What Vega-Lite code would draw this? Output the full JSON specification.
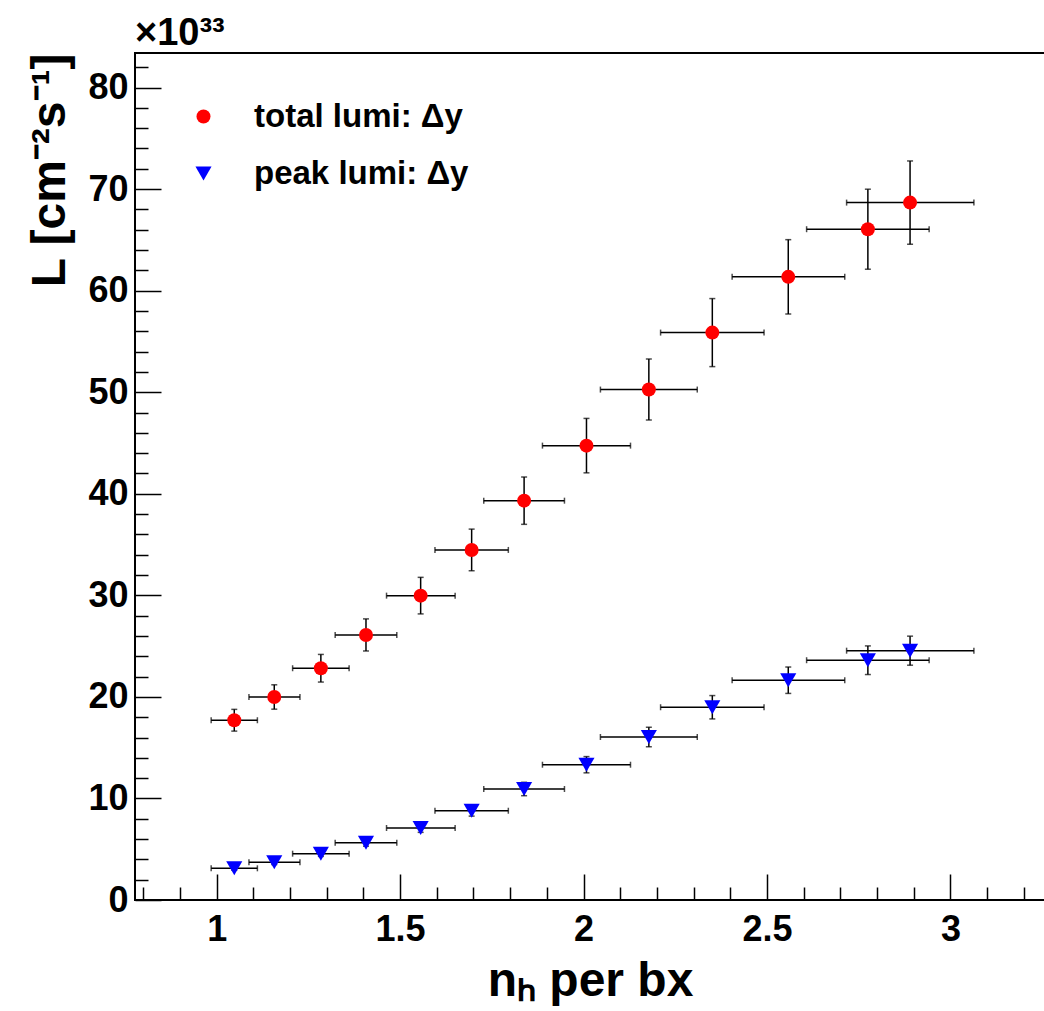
{
  "$schema": "https://vega.github.io/schema/vega-lite/v6.json",
  "width": 910,
  "height": 847,
  "autosize": {"type": "none"},
  "padding": {"left": 135, "top": 53, "right": 0, "bottom": 111},
  "background": "white",
  "title": {"text": "×10³³", "anchor": "start", "frame": "group", "fontSize": 38, "font": "Liberation Sans", "fontWeight": "bold", "color": "black", "offset": -4},
  "data": {"values": [
    {"s": "total lumi: Δy", "x": 1.048, "y": 17.70, "xlo": 0.985, "xhi": 1.111, "ylo": 16.63, "yhi": 18.77},
    {"s": "total lumi: Δy", "x": 1.157, "y": 19.99, "xlo": 1.088, "xhi": 1.227, "ylo": 18.79, "yhi": 21.19},
    {"s": "total lumi: Δy", "x": 1.284, "y": 22.82, "xlo": 1.207, "xhi": 1.361, "ylo": 21.46, "yhi": 24.18},
    {"s": "total lumi: Δy", "x": 1.407, "y": 26.10, "xlo": 1.323, "xhi": 1.491, "ylo": 24.52, "yhi": 27.68},
    {"s": "total lumi: Δy", "x": 1.556, "y": 29.97, "xlo": 1.463, "xhi": 1.650, "ylo": 28.17, "yhi": 31.77},
    {"s": "total lumi: Δy", "x": 1.695, "y": 34.47, "xlo": 1.595, "xhi": 1.795, "ylo": 32.42, "yhi": 36.52},
    {"s": "total lumi: Δy", "x": 1.838, "y": 39.32, "xlo": 1.728, "xhi": 1.948, "ylo": 36.99, "yhi": 41.65},
    {"s": "total lumi: Δy", "x": 2.008, "y": 44.74, "xlo": 1.888, "xhi": 2.128, "ylo": 42.06, "yhi": 47.42},
    {"s": "total lumi: Δy", "x": 2.178, "y": 50.26, "xlo": 2.046, "xhi": 2.310, "ylo": 47.26, "yhi": 53.26},
    {"s": "total lumi: Δy", "x": 2.351, "y": 55.87, "xlo": 2.210, "xhi": 2.492, "ylo": 52.52, "yhi": 59.22},
    {"s": "total lumi: Δy", "x": 2.558, "y": 61.36, "xlo": 2.405, "xhi": 2.712, "ylo": 57.70, "yhi": 65.02},
    {"s": "total lumi: Δy", "x": 2.775, "y": 66.05, "xlo": 2.608, "xhi": 2.942, "ylo": 62.11, "yhi": 69.99},
    {"s": "total lumi: Δy", "x": 2.890, "y": 68.67, "xlo": 2.717, "xhi": 3.064, "ylo": 64.57, "yhi": 72.77},
    {"s": "peak lumi: Δy", "x": 1.048, "y": 3.12, "xlo": 0.985, "xhi": 1.111, "ylo": 2.93, "yhi": 3.31},
    {"s": "peak lumi: Δy", "x": 1.157, "y": 3.71, "xlo": 1.088, "xhi": 1.227, "ylo": 3.49, "yhi": 3.93},
    {"s": "peak lumi: Δy", "x": 1.284, "y": 4.56, "xlo": 1.207, "xhi": 1.361, "ylo": 4.29, "yhi": 4.83},
    {"s": "peak lumi: Δy", "x": 1.407, "y": 5.64, "xlo": 1.323, "xhi": 1.491, "ylo": 5.30, "yhi": 5.98},
    {"s": "peak lumi: Δy", "x": 1.556, "y": 7.09, "xlo": 1.463, "xhi": 1.650, "ylo": 6.66, "yhi": 7.52},
    {"s": "peak lumi: Δy", "x": 1.695, "y": 8.79, "xlo": 1.595, "xhi": 1.795, "ylo": 8.26, "yhi": 9.32},
    {"s": "peak lumi: Δy", "x": 1.838, "y": 10.93, "xlo": 1.728, "xhi": 1.948, "ylo": 10.27, "yhi": 11.59},
    {"s": "peak lumi: Δy", "x": 2.008, "y": 13.32, "xlo": 1.888, "xhi": 2.128, "ylo": 12.52, "yhi": 14.12},
    {"s": "peak lumi: Δy", "x": 2.178, "y": 16.05, "xlo": 2.046, "xhi": 2.310, "ylo": 15.10, "yhi": 17.00},
    {"s": "peak lumi: Δy", "x": 2.351, "y": 18.98, "xlo": 2.210, "xhi": 2.492, "ylo": 17.83, "yhi": 20.13},
    {"s": "peak lumi: Δy", "x": 2.558, "y": 21.64, "xlo": 2.405, "xhi": 2.712, "ylo": 20.34, "yhi": 22.94},
    {"s": "peak lumi: Δy", "x": 2.775, "y": 23.61, "xlo": 2.608, "xhi": 2.942, "ylo": 22.20, "yhi": 25.02},
    {"s": "peak lumi: Δy", "x": 2.890, "y": 24.55, "xlo": 2.717, "xhi": 3.064, "ylo": 23.12, "yhi": 25.98}
  ]},
  "encoding": {
    "x": {"field": "x", "type": "quantitative", "scale": {"domain": [0.7774, 3.2578], "nice": false, "zero": false},
      "axis": {
        "title": "nₕ per bx",
        "values": [0.8, 0.9, 1, 1.1, 1.2, 1.3, 1.4, 1.5, 1.6, 1.7, 1.8, 1.9, 2, 2.1, 2.2, 2.3, 2.4, 2.5, 2.6, 2.7, 2.8, 2.9, 3, 3.1, 3.2],
        "format": "~g",
        "labelExpr": "abs(datum.value*2 - round(datum.value*2)) < 0.001 ? datum.label : ''",
        "tickSize": {"condition": {"test": "abs(datum.value*2 - round(datum.value*2)) < 0.001", "value": -26}, "value": -13},
        "tickColor": "black", "tickWidth": 1.5,
        "domain": false, "grid": false,
        "labelFont": "Liberation Sans", "labelFontWeight": "bold", "labelFontSize": 36, "labelColor": "black",
        "labelPadding": 38, "labelOverlap": false, "labelBound": false, "labelFlush": false,
        "titleFont": "Liberation Sans", "titleFontWeight": "bold", "titleFontSize": 48, "titleColor": "black",
        "titleBaseline": "alphabetic", "titleY": 95, "titleX": 455, "titleAlign": "center"
      }
    },
    "y": {"field": "y", "type": "quantitative", "scale": {"domain": [0, 83.4], "nice": false, "zero": false},
      "axis": {
        "title": "L [cm⁻²s⁻¹]",
        "values": [0, 2, 4, 6, 8, 10, 12, 14, 16, 18, 20, 22, 24, 26, 28, 30, 32, 34, 36, 38, 40, 42, 44, 46, 48, 50, 52, 54, 56, 58, 60, 62, 64, 66, 68, 70, 72, 74, 76, 78, 80, 82],
        "labelExpr": "datum.value % 10 === 0 ? datum.label : ''",
        "tickSize": {"condition": {"test": "datum.value % 10 === 0", "value": -26}, "value": -13},
        "tickColor": "black", "tickWidth": 1.5,
        "domain": false, "grid": false,
        "labelFont": "Liberation Sans", "labelFontWeight": "bold", "labelFontSize": 36, "labelColor": "black",
        "labelPadding": 33, "labelOverlap": false, "labelBound": false, "labelFlush": false,
        "titleFont": "Liberation Sans", "titleFontWeight": "bold", "titleFontSize": 48, "titleColor": "black",
        "titleAngle": -90, "titleX": -85, "titleY": 0, "titleAlign": "right", "titleBaseline": "middle"
      }
    }
  },
  "layer": [
    {
      "mark": {"type": "rule", "color": "black", "strokeWidth": 1.5},
      "encoding": {"x": {"field": "xlo", "type": "quantitative"}, "x2": {"field": "xhi"}}
    },
    {
      "mark": {"type": "tick", "color": "black", "thickness": 1.5, "size": 6, "orient": "vertical"},
      "encoding": {"x": {"field": "xlo", "type": "quantitative"}}
    },
    {
      "mark": {"type": "tick", "color": "black", "thickness": 1.5, "size": 6, "orient": "vertical"},
      "encoding": {"x": {"field": "xhi", "type": "quantitative"}}
    },
    {
      "mark": {"type": "rule", "color": "black", "strokeWidth": 1.5},
      "encoding": {"y": {"field": "ylo", "type": "quantitative"}, "y2": {"field": "yhi"}}
    },
    {
      "mark": {"type": "tick", "color": "black", "thickness": 1.5, "size": 6, "orient": "horizontal"},
      "encoding": {"y": {"field": "ylo", "type": "quantitative"}}
    },
    {
      "mark": {"type": "tick", "color": "black", "thickness": 1.5, "size": 6, "orient": "horizontal"},
      "encoding": {"y": {"field": "yhi", "type": "quantitative"}}
    },
    {
      "mark": {"type": "point", "filled": true, "opacity": 1, "strokeWidth": 0},
      "encoding": {
        "color": {"field": "s", "type": "nominal", "scale": {"domain": ["total lumi: Δy", "peak lumi: Δy"], "range": ["#ff0000", "#0000ff"]},
          "legend": {"orient": "none", "legendX": 52, "legendY": 47, "title": null, "symbolSize": 196, "labelFontSize": 33, "labelFont": "Liberation Sans", "labelFontWeight": "bold", "labelColor": "black", "labelLimit": 500, "rowPadding": 23, "labelOffset": 34, "symbolStrokeWidth": 0, "padding": 0}},
        "shape": {"field": "s", "type": "nominal", "scale": {"domain": ["total lumi: Δy", "peak lumi: Δy"], "range": ["circle", "triangle-down"]},
          "legend": {"orient": "none", "legendX": 52, "legendY": 47, "title": null, "symbolSize": 196, "labelFontSize": 33, "labelFont": "Liberation Sans", "labelFontWeight": "bold", "labelColor": "black", "labelLimit": 500, "rowPadding": 23, "labelOffset": 34, "symbolStrokeWidth": 0, "padding": 0}},
        "size": {"field": "s", "type": "nominal", "scale": {"domain": ["total lumi: Δy", "peak lumi: Δy"], "range": [196, 260]}, "legend": null}
      }
    }
  ],
  "config": {
    "font": "Liberation Sans",
    "view": {"stroke": "black", "strokeWidth": 2}
  }
}
